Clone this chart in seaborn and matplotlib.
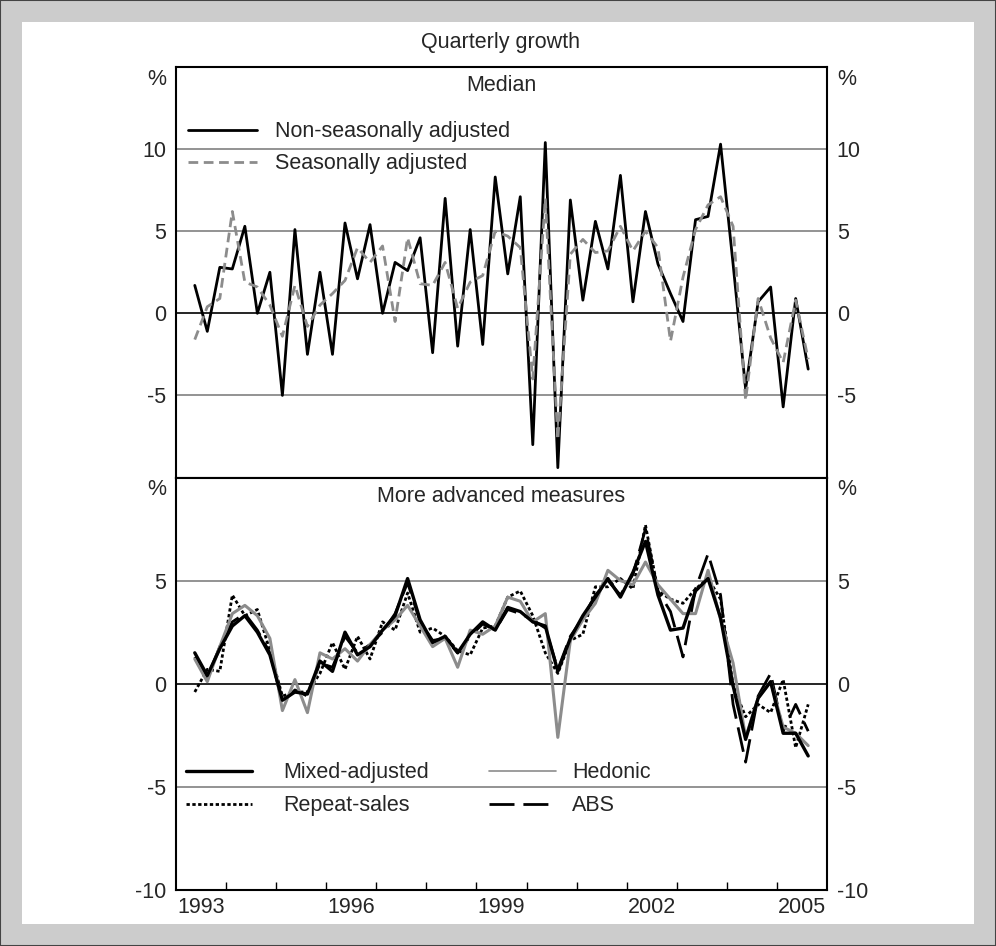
import numpy as np
import pandas as pd
import matplotlib
matplotlib.use('Agg')
import matplotlib.pyplot as plt
import seaborn as sns
from matplotlib.patches import Rectangle

sns.set_theme(style='white')
plt.rcParams['font.family'] = ['Liberation Sans', 'DejaVu Sans']
plt.rcParams['axes.unicode_minus'] = False

FS = 15.5

# quarterly data, 1993 Q2 to 2005 Q3
quarters = pd.period_range('1993Q2', '2005Q3', freq='Q')
x = quarters.year + (quarters.quarter - 0.5) / 4

# median price growth
median_nsa = [1.7, -1.1, 2.8, 2.7, 5.3, 0.0, 2.5, -5.0, 5.1, -2.5,
              2.5, -2.5, 5.5, 2.1, 5.4, 0.0, 3.1, 2.6, 4.6, -2.4,
              7.0, -2.0, 5.1, -1.9, 8.3, 2.4, 7.1, -8.0, 10.4, -9.4,
              6.9, 0.8, 5.6, 2.7, 8.4, 0.7, 6.2, 3.0, 1.2, -0.5,
              5.7, 5.9, 10.3, 3.0, -4.6, 0.7, 1.6, -5.7, 0.9, -3.4]
median_sa = [-1.6, 0.4, 0.9, 6.2, 1.9, 1.6, 0.5, -1.4, 1.7, -0.8,
             0.5, 1.2, 2.0, 4.0, 3.1, 4.1, -0.5, 4.6, 1.8, 1.7,
             3.1, 0.3, 1.9, 2.3, 5.0, 4.7, 4.0, -4.0, 7.0, -7.7,
             3.6, 4.5, 3.7, 3.8, 5.3, 3.8, 5.0, 4.0, -1.7, 2.2,
             5.1, 6.6, 7.1, 5.3, -5.3, 0.9, -1.5, -3.0, 0.8, -2.8]

# more advanced measures
mixed_adj = [1.5, 0.4, 1.7, 2.8, 3.3, 2.5, 1.4, -0.8, -0.4, -0.5,
             1.1, 0.6, 2.5, 1.4, 1.8, 2.6, 3.3, 5.1, 3.1, 2.0,
             2.3, 1.5, 2.4, 3.0, 2.6, 3.7, 3.5, 3.0, 2.8, 0.6,
             2.2, 3.3, 4.2, 5.1, 4.2, 5.4, 6.9, 4.3, 2.6, 2.7,
             4.5, 5.1, 3.2, -0.1, -2.7, -0.7, 0.1, -2.4, -2.4, -3.5]
repeat_sales = [-0.4, 0.7, 0.6, 4.3, 3.3, 3.6, 1.6, -0.6, -0.4, -0.4,
                0.5, 2.0, 0.7, 2.3, 1.2, 3.0, 2.6, 4.4, 2.5, 2.7,
                2.3, 1.6, 1.4, 2.7, 2.8, 4.2, 4.5, 3.3, 1.5, 0.5,
                2.1, 2.4, 4.7, 4.7, 5.1, 4.6, 7.7, 4.5, 4.1, 3.9,
                4.6, 5.1, 4.1, -0.1, -1.6, -1.0, -1.4, 0.2, -3.1, -1.0]
hedonic = [1.2, 0.1, 1.8, 3.4, 3.8, 3.3, 2.2, -1.3, 0.2, -1.4,
           1.5, 1.2, 1.7, 1.1, 1.9, 2.6, 3.1, 3.8, 2.8, 1.8,
           2.2, 0.8, 2.6, 2.4, 2.8, 4.2, 4.0, 3.0, 3.4, -2.6,
           2.1, 3.1, 3.9, 5.5, 5.0, 4.8, 5.9, 4.8, 4.1, 3.4,
           3.4, 5.5, 3.1, 1.0, -2.6, -0.7, 0.1, -2.1, -2.4, -3.0]
abs_index = [1.3, 0.3, 1.8, 3.0, 3.4, 2.6, 1.5, -0.9, -0.3, -0.6,
             1.0, 0.8, 2.3, 1.5, 1.9, 2.5, 3.4, 4.9, 3.0, 2.1,
             2.2, 1.5, 2.3, 2.9, 2.6, 3.6, 3.4, 3.1, 2.7, 0.7,
             2.3, 3.2, 4.3, 5.0, 4.3, 5.3, 7.5, 4.5, 3.5, 1.3,
             4.6, 6.3, 4.3, -1.0, -3.8, -0.6, 0.5, -2.3, -1.0, -2.3]

year_labels = [1993, 1996, 1999, 2002, 2005]

fig = plt.figure(figsize=(9.96, 9.46), dpi=100, facecolor='#cccccc')
fig.add_artist(Rectangle((22 / 996, 22 / 946), 952 / 996, 902 / 946,
                         transform=fig.transFigure, facecolor='white',
                         edgecolor='none', zorder=-10))
fig.add_artist(Rectangle((0, 0), 1, 1, transform=fig.transFigure,
                         fill=False, edgecolor='#444444', lw=1.5, zorder=-9))

ax1 = fig.add_axes([0.1767, 0.49524, 0.6536, 0.43394])
ax2 = fig.add_axes([0.1767, 0.0592, 0.6536, 0.43604])


def style(ax, lo, hi, ticks):
    ax.set_xlim(1993, 2006)
    ax.set_ylim(lo, hi)
    ax.set_yticks(ticks)
    ax.set_yticklabels([str(t) for t in ticks])
    ax.tick_params(axis='y', length=0, labelsize=FS, labelleft=True,
                   labelright=True, pad=7)
    for t in ticks:
        ax.axhline(t, color='black' if t == 0 else '#808080', lw=1.2, zorder=1)
    for s in ax.spines.values():
        s.set_visible(True)
        s.set_color('black')
        s.set_linewidth(1.5)
    ax.set_xlabel('')
    ax.set_ylabel('')
    ax.text(-10 / 651, 0.97, '%', transform=ax.transAxes, ha='right',
            va='center', fontsize=FS)
    ax.text(1 + 10 / 651, 0.97, '%', transform=ax.transAxes, ha='left',
            va='center', fontsize=FS)


# top panel
sns.lineplot(x=x, y=median_nsa, ax=ax1, color='black', lw=2.0,
             label='Non-seasonally adjusted', zorder=3)
sns.lineplot(x=x, y=median_sa, ax=ax1, color='#8c8c8c', lw=2.0,
             linestyle=(0, (3.5, 2)), label='Seasonally adjusted', zorder=4)
style(ax1, -10, 15, [-5, 0, 5, 10])
ax1.set_xticks([])
ax1.text(0.5, 0.955, 'Median', transform=ax1.transAxes, ha='center',
         va='center', fontsize=FS)
ax1.legend(loc='upper left', bbox_to_anchor=(0.018, 0.868), frameon=False,
           fontsize=FS, handlelength=3.2, handletextpad=0.85,
           labelspacing=0.52, borderpad=0, borderaxespad=0)

# bottom panel
sns.lineplot(x=x, y=abs_index, ax=ax2, color='black', lw=2.0,
             linestyle=(0, (9, 3.2)), label='ABS', zorder=3)
sns.lineplot(x=x, y=repeat_sales, ax=ax2, color='black', lw=2.0,
             linestyle=(0, (1.2, 0.9)), label='Repeat-sales', zorder=4)
sns.lineplot(x=x, y=hedonic, ax=ax2, color='#8c8c8c', lw=2.2,
             label='Hedonic', zorder=5)
sns.lineplot(x=x, y=mixed_adj, ax=ax2, color='black', lw=2.4,
             label='Mixed-adjusted', zorder=6)
style(ax2, -10, 10, [-10, -5, 0, 5])
ax2.text(0.5, 0.955, 'More advanced measures', transform=ax2.transAxes,
         ha='center', va='center', fontsize=FS)

ax2.set_xticks(range(1994, 2006))
ax2.set_xticklabels([])
ax2.tick_params(axis='x', which='major', direction='in', length=6, width=1,
                bottom=True, top=False, color='black')
ax2.set_xticks([y + 0.5 for y in year_labels], minor=True)
ax2.set_xticklabels([str(y) for y in year_labels], minor=True)
ax2.tick_params(axis='x', which='minor', length=0, labelsize=FS, pad=5)

h, l = ax2.get_legend_handles_labels()
hd = dict(zip(l, h))
leg_kw = dict(loc='upper left', frameon=False, fontsize=FS, handlelength=3.1,
              labelspacing=0.57, borderpad=0, borderaxespad=0)
leg1 = ax2.legend([hd['Mixed-adjusted'], hd['Repeat-sales']],
                  ['Mixed-adjusted', 'Repeat-sales'],
                  bbox_to_anchor=(0.015, 0.31), handletextpad=1.45, **leg_kw)
ax2.add_artist(leg1)
leg2 = ax2.legend([hd['Hedonic'], hd['ABS']], ['Hedonic', 'ABS'],
                  bbox_to_anchor=(0.481, 0.31), handletextpad=0.75, **leg_kw)
leg2.legend_handles[0].set_linewidth(1.2)

fig.text(0.503, 1 - 42 / 946, 'Quarterly growth', ha='center', va='center',
         fontsize=FS)

fig.savefig('out.png', dpi=100, facecolor=fig.get_facecolor())
